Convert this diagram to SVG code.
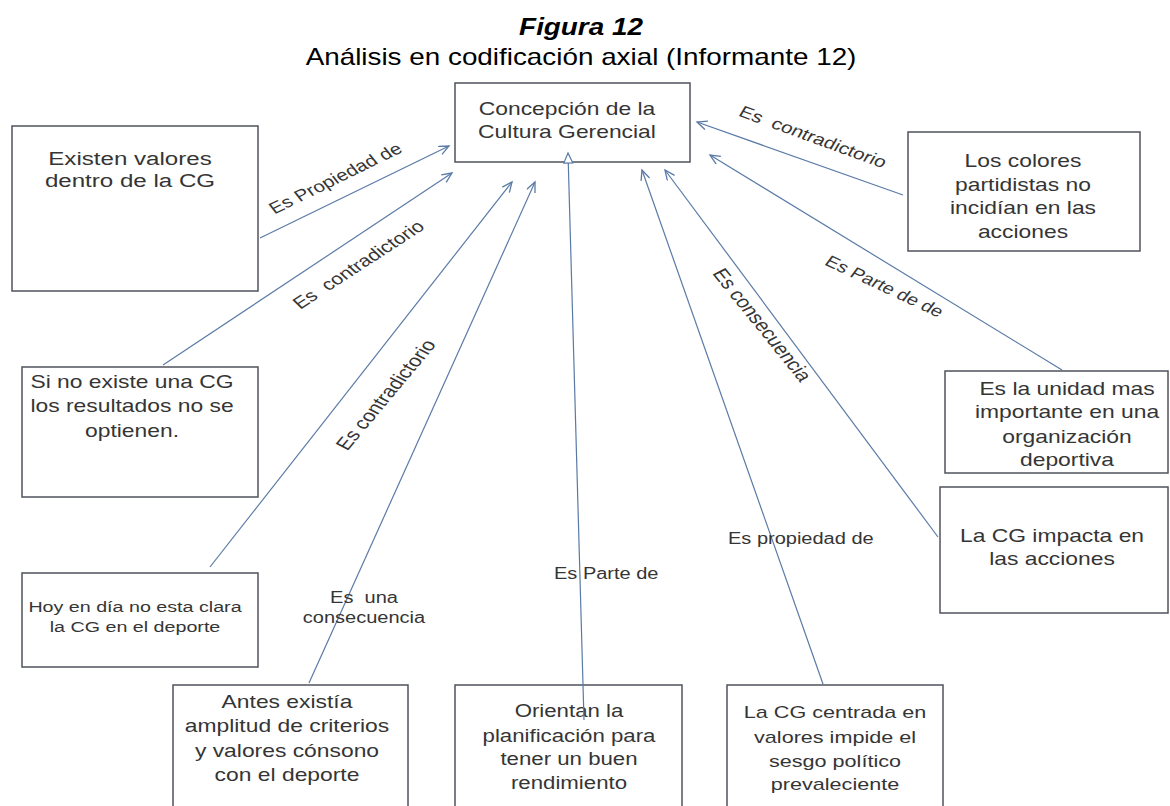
<svg xmlns="http://www.w3.org/2000/svg" width="1170" height="806" viewBox="0 0 1170 806">
  <style>
    .box { fill: #ffffff; stroke: #4f535b; stroke-width: 1.5; }
    .nt { font-family: "Liberation Sans", Arial, sans-serif; font-size: 18px; fill: #353535; text-anchor: middle; }
    .lbl { font-family: "Liberation Sans", Arial, sans-serif; font-size: 16px; fill: #353535; white-space: pre; }
    .mid { text-anchor: middle; }
    .con { stroke: #5a7aa6; stroke-width: 1.2; fill: none; marker-end: url(#open); }
    .con-tri { stroke: #5a7aa6; stroke-width: 1.2; fill: none; marker-end: url(#tri); }
    .ttl { font-family: "Liberation Sans", Arial, sans-serif; font-size: 24px; fill: #000; text-anchor: middle; }
  </style>
  <defs>
    <marker id="open" markerUnits="userSpaceOnUse" markerWidth="14" markerHeight="12" refX="11" refY="5" orient="auto">
      <path d="M1,0.5 L11,5 L1,9.5" fill="none" stroke="#5a7aa6" stroke-width="1.3"/>
    </marker>
    <marker id="tri" markerUnits="userSpaceOnUse" markerWidth="14" markerHeight="12" refX="11" refY="5" orient="auto">
      <path d="M1,0.5 L11,5 L1,9.5 Z" fill="#ffffff" stroke="#5a7aa6" stroke-width="1.2"/>
    </marker>
  </defs>

  <rect width="1170" height="806" fill="#ffffff"/>

  <!-- Heading -->
  <g id="heading">
    <text class="ttl" transform="translate(581 0) scale(1.16 1)" x="0" y="35" font-weight="bold" font-style="italic">Figura 12</text>
    <text class="ttl" transform="translate(581 0) scale(1.16 1)" x="0" y="65">Análisis en codificación axial (Informante 12)</text>
  </g>

  <!-- Connectors -->
  <g id="connectors">
    <line class="con" x1="260" y1="238" x2="449" y2="146"/>
    <line class="con" x1="163" y1="365" x2="452" y2="173"/>
    <line class="con" x1="210" y1="567" x2="512" y2="182"/>
    <line class="con" x1="309" y1="683" x2="535" y2="182"/>
    <line class="con" x1="823" y1="684" x2="642" y2="170"/>
    <line class="con" x1="938" y1="537" x2="665" y2="170"/>
    <line class="con" x1="1062" y1="370" x2="710" y2="155"/>
    <line class="con" x1="903" y1="195" x2="697" y2="122"/>

    <!-- connector labels (rotated, then widened horizontally like the node text) -->
    <text class="lbl mid" style="font-size:16.2px" transform="translate(339 183) scale(1.27 1) rotate(-31.8)">Es Propiedad de</text>
    <text class="lbl mid" style="font-size:16.6px" transform="translate(363 269) scale(1.27 1) rotate(-39.5)">Es  contradictorio</text>
    <text class="lbl mid" style="font-size:17.2px" transform="translate(392 398) scale(1.27 1) rotate(-56.6)">Es contradictorio</text>
    <text class="lbl mid" transform="translate(364 0) scale(1.25 1)"><tspan x="0" y="603">Es  una</tspan><tspan x="0" y="623">consecuencia</tspan></text>
    <text class="lbl" transform="translate(554 0) scale(1.25 1)" x="0" y="579">Es Parte de</text>
    <text class="lbl" transform="translate(728 0) scale(1.25 1)" x="0" y="544">Es propiedad de</text>
    <text class="lbl mid" style="font-size:17.2px" transform="translate(756 328) scale(1.27 1) rotate(57.5)">Es consecuencia</text>
    <text class="lbl mid" style="font-size:15.9px" transform="translate(881 291) scale(1.27 1) rotate(30.6)">Es Parte de de</text>
    <text class="lbl mid" style="font-size:16.3px" transform="translate(810 142) scale(1.27 1) rotate(24.8)">Es  contradictorio</text>
  </g>

  <!-- Nodes -->
  <g id="n-concepcion">
    <rect class="box" x="455" y="83" width="235" height="79"/>
    <text class="nt" transform="translate(567 0) scale(1.27 1)"><tspan x="0" y="115">Concepción de la</tspan><tspan x="0" y="138">Cultura Gerencial</tspan></text>
  </g>

  <g id="n-existen">
    <rect class="box" x="12" y="126" width="246" height="165"/>
    <text class="nt" style="font-size:19px" transform="translate(130 0) scale(1.27 1)"><tspan x="0" y="165">Existen valores</tspan><tspan x="0" y="187">dentro de la CG</tspan></text>
  </g>

  <g id="n-si-no-existe">
    <rect class="box" x="22" y="367" width="236" height="130"/>
    <text class="nt" transform="translate(132 0) scale(1.27 1)"><tspan x="0" y="388">Si no existe una CG</tspan><tspan x="0" y="412">los resultados no se</tspan><tspan x="0" y="437">optienen.</tspan></text>
  </g>

  <g id="n-hoy">
    <rect class="box" x="22" y="573" width="236" height="94"/>
    <text class="nt" style="font-size:15.5px" transform="translate(135 0) scale(1.27 1)"><tspan x="0" y="612">Hoy en día no esta clara</tspan><tspan x="0" y="632">la CG en el deporte</tspan></text>
  </g>

  <g id="n-antes">
    <rect class="box" x="173" y="685" width="235" height="130"/>
    <text class="nt" transform="translate(287 0) scale(1.27 1)"><tspan x="0" y="708">Antes existía</tspan><tspan x="0" y="732">amplitud de criterios</tspan><tspan x="0" y="757">y valores cónsono</tspan><tspan x="0" y="781">con el deporte</tspan></text>
  </g>

  <g id="n-orientan">
    <rect class="box" x="455" y="685" width="227" height="130"/>
    <text class="nt" style="font-size:17.5px" transform="translate(569 0) scale(1.27 1)"><tspan x="0" y="717">Orientan la</tspan><tspan x="0" y="742">planificación para</tspan><tspan x="0" y="765">tener un buen</tspan><tspan x="0" y="789">rendimiento</tspan></text>
  </g>

  <g id="n-centrada">
    <rect class="box" x="727" y="685" width="216" height="130"/>
    <text class="nt" style="font-size:17px" transform="translate(835 0) scale(1.27 1)"><tspan x="0" y="718">La CG centrada en</tspan><tspan x="0" y="743">valores impide el</tspan><tspan x="0" y="767">sesgo político</tspan><tspan x="0" y="790">prevaleciente</tspan></text>
  </g>

  <g id="n-colores">
    <rect class="box" x="908" y="132" width="232" height="119"/>
    <text class="nt" transform="translate(1023 0) scale(1.27 1)"><tspan x="0" y="167">Los colores</tspan><tspan x="0" y="191">partidistas no</tspan><tspan x="0" y="214">incidían en las</tspan><tspan x="0" y="238">acciones</tspan></text>
  </g>

  <g id="n-unidad">
    <rect class="box" x="945" y="371" width="223" height="102"/>
    <text class="nt" transform="translate(1067 0) scale(1.27 1)"><tspan x="0" y="395">Es la unidad mas</tspan><tspan x="0" y="418">importante en una</tspan><tspan x="0" y="443">organización</tspan><tspan x="0" y="466">deportiva</tspan></text>
  </g>

  <g id="n-impacta">
    <rect class="box" x="940" y="487" width="228" height="126"/>
    <text class="nt" transform="translate(1052 0) scale(1.27 1)"><tspan x="0" y="542">La CG impacta en</tspan><tspan x="0" y="565">las acciones</tspan></text>
  </g>

  <!-- vertical link drawn over the lower node and into the central box -->
  <g id="connector-vertical">
    <line class="con-tri" x1="584" y1="720" x2="568" y2="153"/>
  </g>
</svg>
